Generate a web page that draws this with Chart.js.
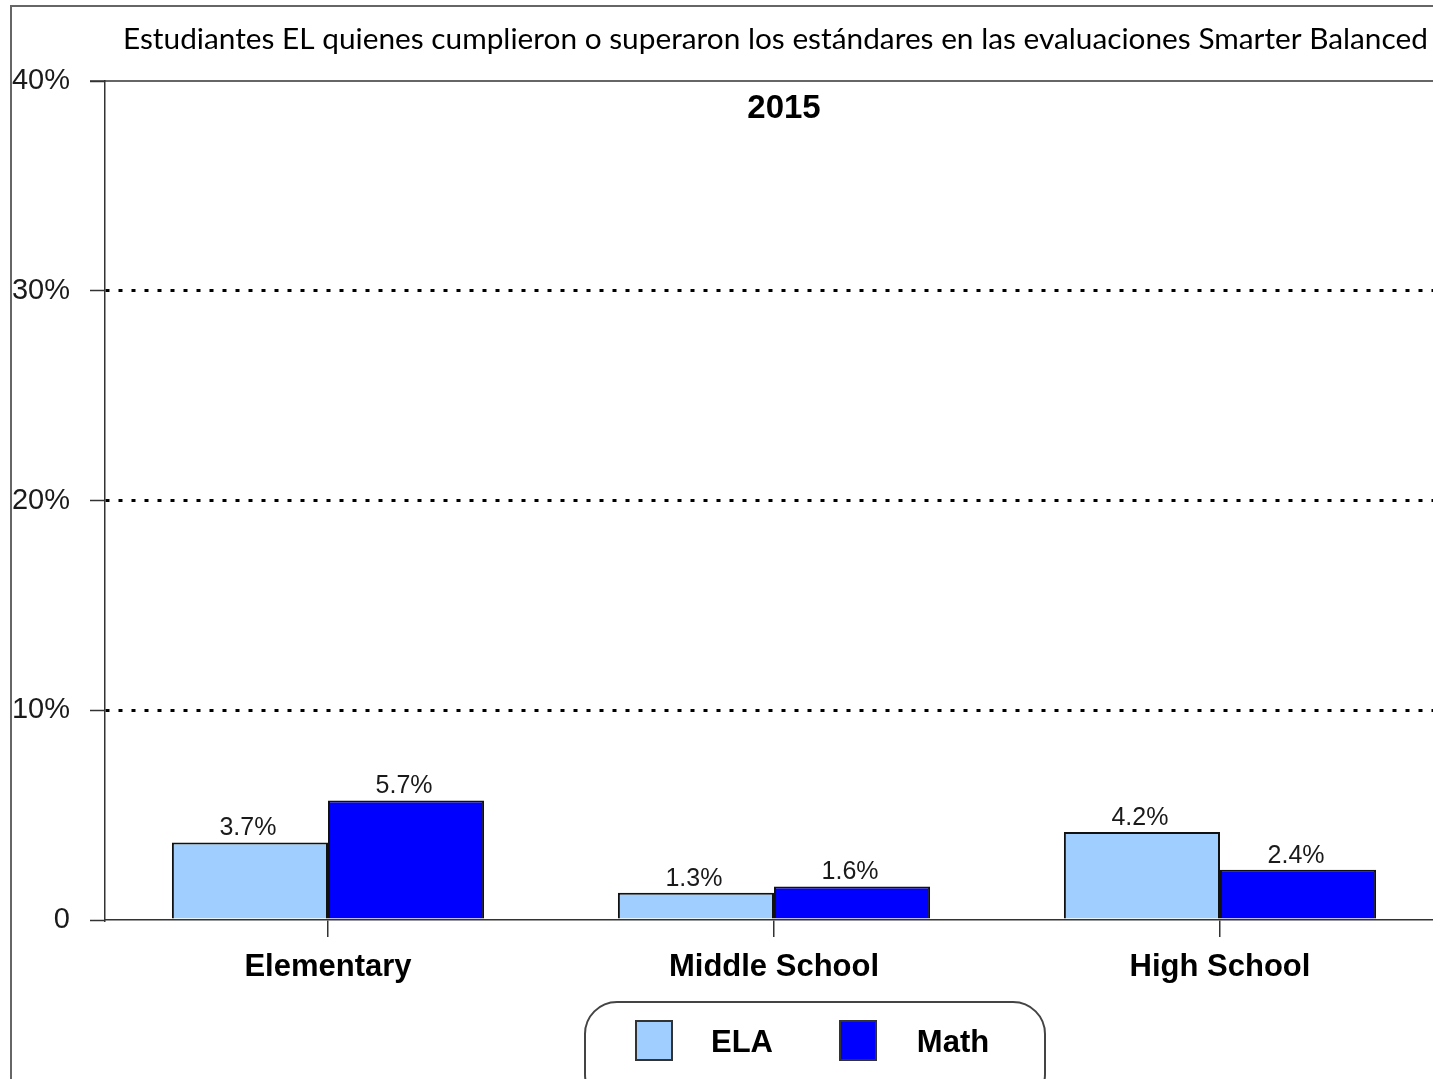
<!DOCTYPE html>
<html>
<head>
<meta charset="utf-8">
<script src="https://cdn.jsdelivr.net/npm/chart.js@4"></script>
<style>
    html, body { margin: 0; padding: 0; background: #ffffff; overflow: hidden; }
    #wrap { position: absolute; left: 0; top: 0; width: 1443px; height: 1079px; }
</style>
</head>
<body>
<div id="wrap"><canvas id="chart"></canvas></div>
<script>
// Chart data
const categories = ['Elementary', 'Middle School', 'High School'];
const elaValues = [3.7, 1.3, 4.2];
const mathValues = [5.7, 1.6, 2.4];
const yTickLabels = ['0', '10%', '20%', '30%', '40%'];

const pageTitle = 'Estudiantes EL quienes cumplieron o superaron los estándares en las evaluaciones Smarter Balanced';
const chartYear = '2015';

// Frame, title, year, data labels and legend box
const decorations = {
    id: 'decorations',
    afterDatasetsDraw(chart) {
        const ctx = chart.ctx;
        ctx.save();
        ctx.fillStyle = '#1a1a1a';
        ctx.font = '25px "Liberation Sans", Arial, sans-serif';
        ctx.textAlign = 'center';
        ctx.textBaseline = 'alphabetic';
        chart.data.datasets.forEach((ds, i) => {
            chart.getDatasetMeta(i).data.forEach((bar, j) => {
                ctx.fillText(ds.data[j].toFixed(1) + '%', bar.x - 2, bar.y - 7);
            });
        });
        ctx.restore();
    },
    afterDraw(chart) {
        const ctx = chart.ctx;
        const yScale = chart.scales.y;
        ctx.save();

        // outer frame
        ctx.strokeStyle = '#666666';
        ctx.lineWidth = 2;
        ctx.beginPath();
        ctx.moveTo(11, 1079);
        ctx.lineTo(11, 6);
        ctx.lineTo(1445, 6);
        ctx.stroke();

        // solid top line at max
        const yTop = yScale.getPixelForValue(40);
        ctx.strokeStyle = '#333333';
        ctx.lineWidth = 1.5;
        ctx.beginPath();
        ctx.moveTo(90, yTop);
        ctx.lineTo(1445, yTop);
        ctx.stroke();

        // page title
        ctx.fillStyle = '#000000';
        ctx.textAlign = 'left';
        ctx.textBaseline = 'alphabetic';
        let size = 30;
        ctx.font = size + 'px Lato, "Open Sans", sans-serif';
        const w = ctx.measureText(pageTitle).width;
        size = size * 1305 / w;
        ctx.font = size.toFixed(2) + 'px Lato, "Open Sans", sans-serif';
        ctx.fillText(pageTitle, 123, 49);

        // year
        ctx.textAlign = 'center';
        ctx.font = 'bold 33px "Liberation Sans", Arial, sans-serif';
        ctx.fillText(chartYear, 784, 118);

        // legend
        ctx.strokeStyle = '#444444';
        ctx.lineWidth = 2;
        ctx.beginPath();
        ctx.roundRect(585, 1002, 460, 104, 32);
        ctx.stroke();
        const items = [
            { x: 636, textX: 742 },
            { x: 840, textX: 953 }
        ];
        ctx.font = 'bold 31px "Liberation Sans", Arial, sans-serif';
        chart.data.datasets.forEach((ds, i) => {
            ctx.fillStyle = ds.backgroundColor;
            ctx.fillRect(items[i].x, 1021, 36, 39);
            ctx.strokeStyle = '#333333';
            ctx.lineWidth = 2;
            ctx.strokeRect(items[i].x, 1021, 36, 39);
            ctx.fillStyle = '#000000';
            ctx.textAlign = 'center';
            ctx.fillText(ds.label, items[i].textX, 1052);
        });
        ctx.restore();
    }
};

const ctx = document.getElementById('chart').getContext('2d');

new Chart(ctx, {
    type: 'bar',
    data: {
        labels: categories,
        datasets: [{
            label: 'ELA',
            data: elaValues,
            backgroundColor: '#A0CFFF',
            borderColor: '#111111',
            borderWidth: 2,
            categoryPercentage: 0.7,
            barPercentage: 1.0
        }, {
            label: 'Math',
            data: mathValues,
            backgroundColor: '#0000FF',
            borderColor: '#111111',
            borderWidth: 2,
            categoryPercentage: 0.7,
            barPercentage: 1.0
        }]
    },
    options: {
        responsive: true,
        maintainAspectRatio: false,
        animation: false,
        layout: {
            padding: { top: 81, left: 0, right: 0, bottom: 0 }
        },
        plugins: {
            legend: { display: false },
            title: { display: false },
            tooltip: { enabled: false }
        },
        scales: {
            x: {
                grid: {
                    offset: false,
                    drawOnChartArea: false,
                    drawTicks: true,
                    tickLength: 17,
                    color: '#333333',
                    lineWidth: 1.5
                },
                border: {
                    color: '#333333',
                    width: 1.5
                },
                ticks: {
                    color: '#000000',
                    padding: 12,
                    font: {
                        family: '"Liberation Sans", Arial, sans-serif',
                        size: 31,
                        weight: 'bold'
                    }
                },
                afterFit(scale) {
                    scale.height = 159;
                }
            },
            y: {
                min: 0,
                max: 40,
                grid: {
                    color: (c) => (c.tick && (c.tick.value === 0 || c.tick.value === 40)) ? 'rgba(0,0,0,0)' : '#000000',
                    lineWidth: 3,
                    tickColor: '#333333',
                    tickWidth: 1.5,
                    tickLength: 15
                },
                border: {
                    color: '#333333',
                    width: 1.5,
                    dash: [4, 9]
                },
                ticks: {
                    stepSize: 10,
                    padding: 20,
                    color: '#1a1a1a',
                    font: {
                        family: '"Liberation Sans", Arial, sans-serif',
                        size: 29
                    },
                    callback: (value) => yTickLabels[value / 10]
                },
                afterFit(scale) {
                    scale.width = 105;
                }
            }
        }
    },
    plugins: [decorations]
});
</script>
</body>
</html>
